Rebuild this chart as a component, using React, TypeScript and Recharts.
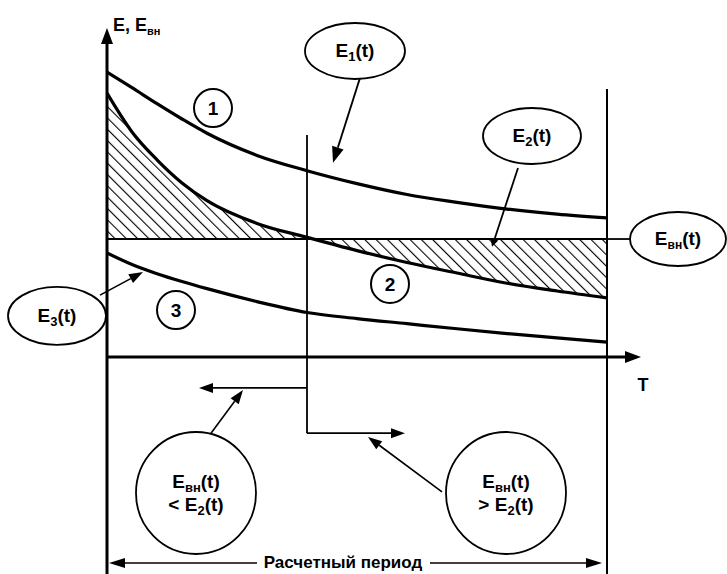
import React from 'react';
import { ComposedChart, Line, Area, XAxis, YAxis, ReferenceLine, ReferenceDot } from 'recharts';

// time axis (calculation period 0..10) and the curves
const T = [0, 0.5, 1, 1.5, 2, 3, 4, 5, 6, 7, 8, 9, 10];
const E1 = [8.38, 7.92, 7.45, 7.0, 6.58, 5.93, 5.48, 5.1, 4.78, 4.55, 4.35, 4.2, 4.09];
const E2 = [7.76, 6.62, 5.8, 5.12, 4.6, 3.93, 3.52, 3.13, 2.78, 2.47, 2.17, 1.94, 1.74];
const E3 = [3.06, 2.72, 2.45, 2.22, 2.01, 1.63, 1.31, 1.13, 0.98, 0.83, 0.69, 0.56, 0.44];
const EVN = [3.47, 3.47, 3.47, 3.47, 3.47, 3.47, 3.47, 3.47, 3.47, 3.47, 3.47, 3.47, 3.47];

const data = T.map((t, i) => ({ t, e1: E1[i], e2: E2[i], e3: E3[i], evn: EVN[i], band: [EVN[i], E2[i]] }));

const FONT = "'Liberation Sans Narrow', 'Liberation Sans', Arial, sans-serif";

// line with a filled arrowhead at the end
const arrow = (head = 14, half = 5, width = 1.6, noHead = false) => (p: any) => {
  const { x1, y1, x2, y2 } = p;
  const dx = x2 - x1, dy = y2 - y1;
  const len = Math.hypot(dx, dy) || 1;
  const ux = dx / len, uy = dy / len;
  if (noHead) return <line x1={x1} y1={y1} x2={x2} y2={y2} stroke="#000" strokeWidth={width} />;
  const bx = x2 - ux * head, by = y2 - uy * head;
  const pts = `${x2},${y2} ${bx - uy * half},${by + ux * half} ${bx + uy * half},${by - ux * half}`;
  return (
    <g>
      <line x1={x1} y1={y1} x2={bx} y2={by} stroke="#000" strokeWidth={width} />
      <polygon points={pts} fill="#000" />
    </g>
  );
};

const E = (sub: string, rest: string, subSize = 13) => [
  <tspan key="a">E</tspan>,
  <tspan key="b" fontSize={subSize} dy={4}>{sub}</tspan>,
  <tspan key="c" dy={-4}>{rest}</tspan>,
];

const bubble = (rx: number, ry: number, lines: React.ReactNode[][]) => (p: any) => {
  const { cx, cy } = p;
  const step = 23;
  const y0 = cy - ((lines.length - 1) * step) / 2;
  return (
    <g>
      <ellipse cx={cx} cy={cy} rx={rx} ry={ry} fill="#fff" stroke="#000" strokeWidth={1.8} />
      {lines.map((ln, i) => (
        <text key={i} x={cx} y={y0 + i * step + 6} textAnchor="middle" fontFamily={FONT} fontWeight="bold" fontSize={19} fill="#000">
          {ln}
        </text>
      ))}
    </g>
  );
};

const circleNo = (n: string) => (p: any) => (
  <g>
    <circle cx={p.cx} cy={p.cy} r={19} fill="#fff" stroke="#000" strokeWidth={2} />
    <text x={p.cx} y={p.cy + 7} textAnchor="middle" fontFamily={FONT} fontWeight="bold" fontSize={19}>{n}</text>
  </g>
);

const label = (content: React.ReactNode, anchor: 'start' | 'middle' = 'start', size = 17) => (p: any) => (
  <text x={p.cx} y={p.cy} textAnchor={anchor} fontFamily={FONT} fontWeight="bold" fontSize={size} fill="#000">{content}</text>
);

const App = () => {
  return (
    <div style={{ position: 'absolute', left: 0, top: 0, background: '#fff' }}>
      <ComposedChart width={727} height={574} data={data} margin={{ top: 17, right: 120, bottom: 13, left: 107 }}>
        <defs>
          <pattern id="hatch" patternUnits="userSpaceOnUse" width="8" height="8" patternTransform="rotate(-45)">
            <line x1="0" y1="0" x2="0" y2="8" stroke="#000" strokeWidth="2.2" />
          </pattern>
        </defs>
        <XAxis type="number" dataKey="t" domain={[0, 10]} hide allowDataOverflow />
        <YAxis type="number" domain={[-6, 10]} hide allowDataOverflow />

        <Area type="monotone" dataKey="band" stroke="none" fill="url(#hatch)" fillOpacity={1} isAnimationActive={false} />

        {/* axes */}
        <ReferenceLine segment={[{ x: 0, y: -6.4 }, { x: 0, y: 9.68 }]} ifOverflow="visible" shape={arrow(16, 6, 3)} />
        <ReferenceLine segment={[{ x: 0, y: 0 }, { x: 10.68, y: 0 }]} ifOverflow="visible" shape={arrow(16, 6, 3)} />

        {/* verticals and step */}
        <ReferenceLine segment={[{ x: 4, y: 6.53 }, { x: 4, y: -2.24 }]} ifOverflow="visible" shape={arrow(0, 0, 1.8, true)} />
        <ReferenceLine segment={[{ x: 10, y: 7.88 }, { x: 10, y: -6.4 }]} ifOverflow="visible" shape={arrow(0, 0, 2, true)} />
        <ReferenceLine segment={[{ x: 4, y: -2.24 }, { x: 5.96, y: -2.24 }]} ifOverflow="visible" shape={arrow(14, 5, 1.8)} />
        <ReferenceLine segment={[{ x: 4, y: -0.91 }, { x: 1.84, y: -0.91 }]} ifOverflow="visible" shape={arrow(14, 5, 1.8)} />

        {/* E_vn extension to its label */}
        <ReferenceLine segment={[{ x: 10, y: 3.47 }, { x: 10.46, y: 3.47 }]} ifOverflow="visible" shape={arrow(0, 0, 1.8, true)} />

        <Line type="monotone" dataKey="evn" stroke="#000" strokeWidth={2} dot={false} isAnimationActive={false} />
        <Line type="monotone" dataKey="e1" stroke="#000" strokeWidth={3.2} dot={false} isAnimationActive={false} />
        <Line type="monotone" dataKey="e2" stroke="#000" strokeWidth={3.2} dot={false} isAnimationActive={false} />
        <Line type="monotone" dataKey="e3" stroke="#000" strokeWidth={3.2} dot={false} isAnimationActive={false} />

        {/* pointers */}
        <ReferenceLine segment={[{ x: 5.06, y: 8.21 }, { x: 4.52, y: 5.71 }]} ifOverflow="visible" shape={arrow(16, 6, 1.8)} />
        <ReferenceLine segment={[{ x: 8.22, y: 5.56 }, { x: 7.7, y: 3.24 }]} ifOverflow="visible" shape={arrow(8, 4, 1.8)} />
        <ReferenceLine segment={[{ x: -0.14, y: 1.82 }, { x: 0.72, y: 2.5 }]} ifOverflow="visible" shape={arrow(14, 5, 1.6)} />
        <ReferenceLine segment={[{ x: 2.08, y: -2.24 }, { x: 2.72, y: -0.97 }]} ifOverflow="visible" shape={arrow(14, 5, 1.6)} />
        <ReferenceLine segment={[{ x: 6.7, y: -3.97 }, { x: 5.22, y: -2.35 }]} ifOverflow="visible" shape={arrow(14, 5, 1.6)} />

        {/* calculation period */}
        <ReferenceLine segment={[{ x: 3.0, y: -6.06 }, { x: 0.04, y: -6.06 }]} ifOverflow="visible" shape={arrow(16, 5, 1.6)} />
        <ReferenceLine segment={[{ x: 6.46, y: -6.06 }, { x: 9.9, y: -6.06 }]} ifOverflow="visible" shape={arrow(16, 5, 1.6)} />
        <ReferenceDot x={4.72} y={-6.2} ifOverflow="visible" shape={label('Расчетный период', 'middle', 17)} />

        {/* circled numbers */}
        <ReferenceDot x={2.12} y={7.32} ifOverflow="visible" shape={circleNo('1')} />
        <ReferenceDot x={5.66} y={2.15} ifOverflow="visible" shape={circleNo('2')} />
        <ReferenceDot x={1.38} y={1.38} ifOverflow="visible" shape={circleNo('3')} />

        {/* bubbles */}
        <ReferenceDot x={4.96} y={9.0} ifOverflow="visible" shape={bubble(50, 28, [E('1', '(t)')])} />
        <ReferenceDot x={8.5} y={6.5} ifOverflow="visible" shape={bubble(49, 28, [E('2', '(t)')])} />
        <ReferenceDot x={11.42} y={3.47} ifOverflow="visible" shape={bubble(48, 27, [E('вн', '(t)', 12)])} />
        <ReferenceDot x={-1.0} y={1.21} ifOverflow="visible" shape={bubble(49, 29, [E('3', '(t)')])} />
        <ReferenceDot x={1.78} y={-4.0} ifOverflow="visible"
          shape={bubble(60, 61, [E('вн', '(t)'), [<tspan key="l">{'< '}</tspan>, ...E('2', '(t)')]])} />
        <ReferenceDot x={7.98} y={-4.0} ifOverflow="visible"
          shape={bubble(60, 61, [E('вн', '(t)'), [<tspan key="g">{'> '}</tspan>, ...E('2', '(t)')]])} />

        {/* axis labels */}
        <ReferenceDot x={0.12} y={9.59} ifOverflow="visible" shape={label([<tspan key="a">E, E</tspan>, <tspan key="b" fontSize={11} dy={4}>вн</tspan>], 'start', 18)} />
        <ReferenceDot x={10.72} y={-1.0} ifOverflow="visible" shape={label('T', 'middle', 18)} />
      </ComposedChart>
    </div>
  );
};

export default App;
